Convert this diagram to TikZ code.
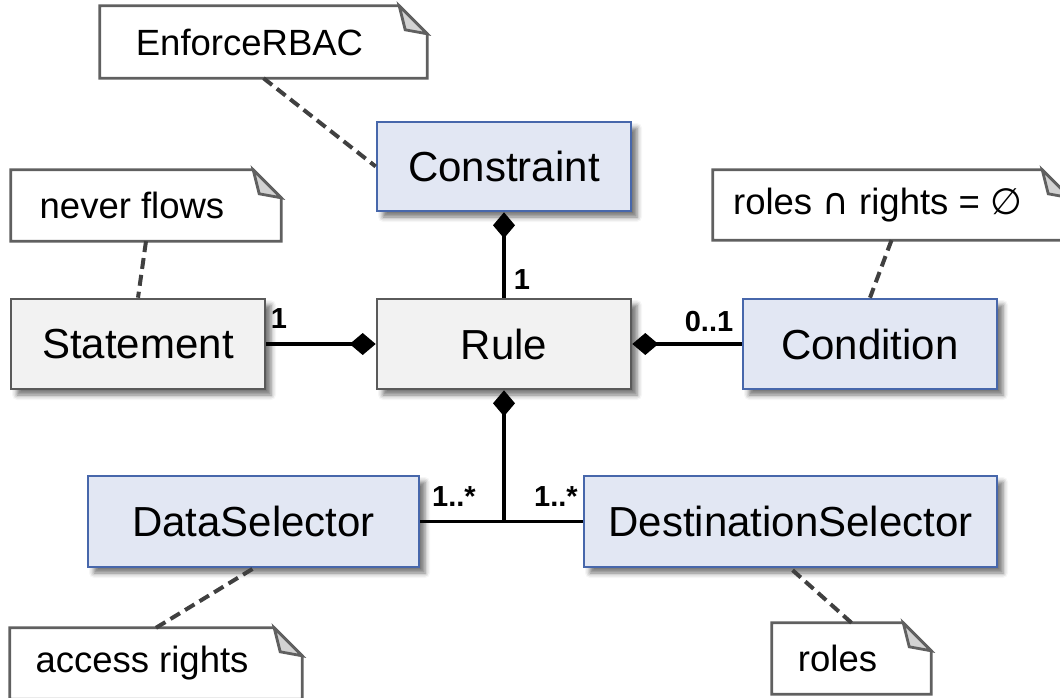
\documentclass[tikz,border=0pt]{standalone}
\usepackage{fontspec}
\setmainfont{Liberation Sans}
\newfontfamily\symfont{DejaVu Sans}
\usetikzlibrary{arrows.meta,shadows.blur}
\definecolor{UmlGrayFill}{HTML}{F2F2F2}
\definecolor{UmlGrayLine}{HTML}{5A5A5A}
\definecolor{UmlBlueFill}{HTML}{E2E7F3}
\definecolor{UmlBlueLine}{HTML}{4767AB}
\definecolor{UmlNoteLine}{HTML}{606060}
\definecolor{UmlNoteFold}{HTML}{D2D2D2}
\definecolor{UmlDash}{HTML}{404040}

\begin{document}
\begin{tikzpicture}[x=1pt,y=-1pt,
  cls/.style n args={4}{draw=#1,fill=#2,line width=2.6pt,minimum width=#3pt,minimum height=#4pt,inner sep=0pt,font=\fontsize{42}{48}\selectfont,blur shadow={shadow xshift=6pt,shadow yshift=-6pt,shadow blur radius=5pt,shadow opacity=55}},
  note/.style n args={2}{minimum width=#1pt,minimum height=#2pt,inner sep=0pt,font=\fontsize{36.5}{42}\selectfont},
  noteline/.style={draw=UmlNoteLine,line width=2.8pt,line join=miter},
  notelink/.style={draw=UmlDash,line width=4pt,dash pattern=on 11pt off 6pt},
  comp/.style={line width=3.4pt,-{Diamond[length=26pt,width=22pt]}},
  mult/.style={font=\bfseries\fontsize{29}{30}\selectfont}]
\useasboundingbox (0,0) rectangle (1060,697);
\node[cls={UmlBlueLine}{UmlBlueFill}{254}{89}](constraint) at(504,166.5) {Constraint};
\node[cls={UmlGrayLine}{UmlGrayFill}{254}{90}](statement) at(138,344) {Statement};
\node[cls={UmlGrayLine}{UmlGrayFill}{254}{90}](rule) at(504,344) {Rule};
\node[cls={UmlBlueLine}{UmlBlueFill}{254}{90}](condition) at(870,344) {Condition};
\node[cls={UmlBlueLine}{UmlBlueFill}{331}{91}](datasel) at(253.5,521.5) {DataSelector};
\node[cls={UmlBlueLine}{UmlBlueFill}{413}{91}](destsel) at(790.5,521.5) {DestinationSelector};
\node[note={299}{72}](nEnforce) at(249.5,42) {EnforceRBAC};
\node[note={242}{71}](nNever) at(132,205.5) {never flows};
\node[note={329}{70}](nRolesRights) at(877.5,205) {roles {\symfont ∩} rights = {\symfont ∅}};
\node[note={264}{71}](nAccess) at(142,663.5) {access rights};
\node[note={131}{71}](nRoles) at(837.5,658.5) {roles};
\foreach \n in {nEnforce,nNever,nRolesRights,nAccess,nRoles} {
   \draw[noteline] (\n.north east) -- (\n.north west) -- (\n.south west) -- ([xshift=28pt]\n.south east) -- ([xshift=28pt,yshift=-28pt]\n.north east) -- cycle;
   \draw[noteline,fill=UmlNoteFold] (\n.north east) -- ([xshift=6pt,yshift=-24pt]\n.north east) -- ([xshift=28pt,yshift=-28pt]\n.north east) -- cycle;
}
\draw[notelink] ([xshift=14pt]nEnforce.south) -- (constraint.west);
\draw[notelink] ([xshift=14pt]nNever.south) -- (statement.north);
\draw[notelink] ([xshift=14pt]nRolesRights.south) -- (condition.north);
\draw[notelink] ([xshift=14pt]nAccess.north) -- (datasel.south);
\draw[notelink] ([xshift=14pt]nRoles.north) -- (destsel.south);
\coordinate (fork) at (rule.south |- datasel.east);
\draw[comp] (rule.north) -- (constraint.south);
\draw[comp] (statement.east) -- (rule.west);
\draw[comp] (condition.west) -- (rule.east);
\draw[comp] (fork) -- (rule.south);
\draw[line width=3.4pt] (datasel.east) -- (destsel.west);
\node[mult](m1) at(522,280) {1};
\node[mult](m2) at(279,319) {1};
\node[mult](m3) at(709,322) {0..1};
\node[mult](m4) at(454,497) {1..*};
\node[mult](m5) at(556,497) {1..*};
\end{tikzpicture}
\end{document}
